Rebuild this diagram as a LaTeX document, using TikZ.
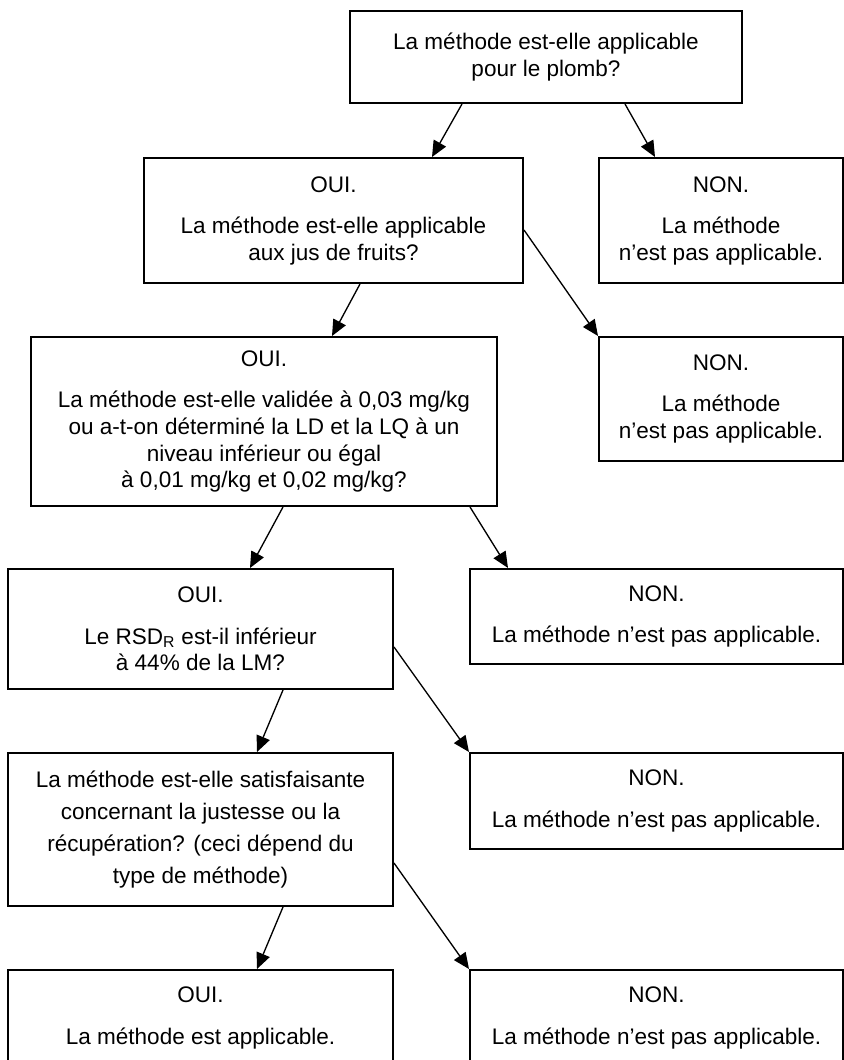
\documentclass[tikz,border=0pt]{standalone}
\usepackage{fontspec}
\setmainfont{Liberation Sans}
\usetikzlibrary{arrows.meta,calc}
\newcommand{\bxfont}{\fontsize{16.9pt}{20pt}\selectfont}
\newcommand{\bxfontwide}{\fontsize{16.9pt}{23.8pt}\selectfont}
\begin{document}
\begin{tikzpicture}[x=0.75pt,y=-0.75pt,
  box/.style={draw, line width=1.5pt, inner sep=0pt, align=center, anchor=north west, font=\bxfont},
  conn/.style={line width=1pt, -{Triangle[length=12pt,width=10.5pt]}}]
\useasboundingbox (0,0) rectangle (843,1060);
\node[box, minimum width=294pt, minimum height=69pt] (top) at (349,10)
  {La méthode est-elle applicable\\pour le plomb?};
\node[box, minimum width=284.25pt, minimum height=93.75pt] (oui1) at (143,157)
  {OUI.\\[11pt]La méthode est-elle applicable\\aux jus de fruits?};
\node[box, minimum width=183pt, minimum height=93.75pt] (non1) at (598,157)
  {NON.\\[11pt]La méthode\\n’est pas applicable.};
\node[box, minimum width=349.5pt, minimum height=126.75pt] (oui2) at (30,336)
  {OUI.\\[11pt]La méthode est-elle validée à 0,03 mg/kg\\ou a-t-on déterminé la LD et la LQ à un\\niveau inférieur ou égal\\à 0,01 mg/kg et 0,02 mg/kg?};
\node[box, minimum width=183pt, minimum height=93pt] (non2) at (598,336)
  {NON.\\[11pt]La méthode\\n’est pas applicable.};
\node[box, minimum width=288.75pt, minimum height=90pt] (oui3) at (7,568)
  {OUI.\\[11pt]Le RSD\textsubscript{R} est-il inférieur\\à 44\% de la LM?};
\node[box, minimum width=279.75pt, minimum height=71.25pt] (non3) at (469,568)
  {NON.\\[11pt]La méthode n’est pas applicable.};
\node[box, font=\bxfontwide, minimum width=288.75pt, minimum height=114.75pt] (q4) at (7,752)
  {La méthode est-elle satisfaisante\\concernant la justesse ou la\\récupération? (ceci dépend du\\type de méthode)};
\node[box, minimum width=279.75pt, minimum height=72pt] (non4) at (469,752)
  {NON.\\[11pt]La méthode n’est pas applicable.};
\node[box, minimum width=288.75pt, minimum height=72pt] (ouiF) at (7,969)
  {OUI.\\[11pt]La méthode est applicable.};
\node[box, minimum width=279.75pt, minimum height=72pt] (nonF) at (469,969)
  {NON.\\[11pt]La méthode n’est pas applicable.};
\draw[conn] ($(top.south west)+(113,0)$) -- ($(oui1.north west)+(289,0)$);
\draw[conn] ($(top.south west)+(276,0)$) -- ($(non1.north west)+(57,0)$);
\draw[conn] ($(oui1.south west)+(217,0)$) -- ($(oui2.north west)+(302,0)$);
\draw[conn] ($(oui1.north east)+(0,73)$) -- (non2.north west);
\draw[conn] ($(oui2.south west)+(253,0)$) -- ($(oui3.north west)+(243,0)$);
\draw[conn] ($(oui2.south west)+(440,0)$) -- ($(non3.north west)+(39,0)$);
\draw[conn] ($(oui3.south west)+(276,0)$) -- ($(q4.north west)+(250,0)$);
\draw[conn] ($(oui3.north east)+(0,79)$) -- (non4.north west);
\draw[conn] ($(q4.south west)+(276,0)$) -- ($(ouiF.north west)+(250,0)$);
\draw[conn] ($(q4.north east)+(0,111)$) -- (nonF.north west);
\end{tikzpicture}
\end{document}
